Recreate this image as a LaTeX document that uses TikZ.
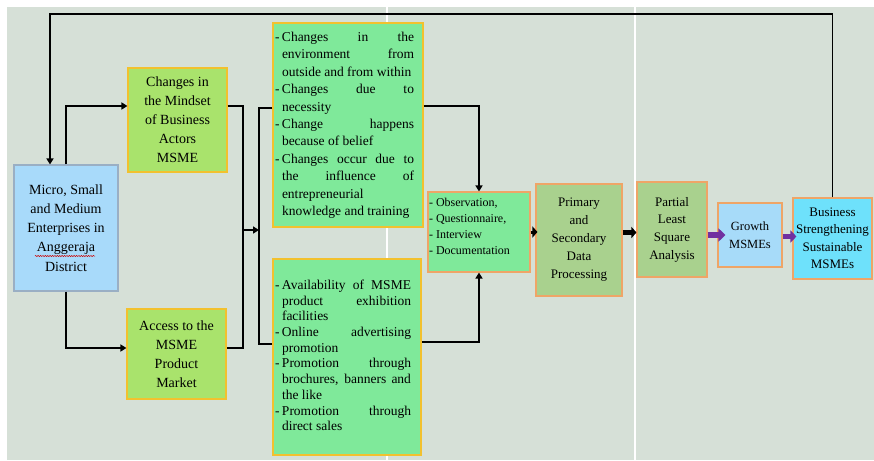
\documentclass[tikz,border=0pt]{standalone}
\usepackage{fontspec}
\setmainfont{Liberation Serif}
\usetikzlibrary{arrows.meta,calc,decorations.pathmorphing}
\definecolor{bgc}{HTML}{D6E0D7}
\definecolor{msmefill}{HTML}{A8DAFA}
\definecolor{msmedraw}{HTML}{9AAFC4}
\definecolor{limefill}{HTML}{A9E36C}
\definecolor{golddraw}{HTML}{F2C12E}
\definecolor{greenfill}{HTML}{7FE99A}
\definecolor{orangedraw}{HTML}{EFA567}
\definecolor{olivefill}{HTML}{A9D18E}
\definecolor{growfill}{HTML}{A7DBF9}
\definecolor{busfill}{HTML}{6EE1FB}
\definecolor{arrpurple}{HTML}{7030A0}
\newcommand\J[2]{\makebox[#1][s]{#2}}
\newcommand\dsh{\makebox[7pt][l]{-}}
\tikzset{
  box/.style={draw, line width=1.1pt, inner sep=0pt, align=center},
  conn/.style={draw=black, line width=1.7pt},
  conna/.style={conn, -{Triangle[length=6pt,width=7pt]}},
  blk/.style={draw=black, -{Triangle[length=5pt,width=11pt]}},
  prp/.style={draw=arrpurple, -{Triangle[length=7pt,width=13pt]}},
}
\begin{document}
\begin{tikzpicture}[x=1pt,y=-1pt]
\useasboundingbox (0,0) rectangle (874,460);
\fill[bgc] (7,7) rectangle (874,460);
\draw[white, line width=1.5pt] (387,7) -- (387,460);
\draw[white, line width=1.5pt] (635,7) -- (635,460);

% boxes
\node[box, draw=msmedraw, fill=msmefill, minimum width=104pt, minimum height=126pt,
      font=\fontsize{14}{19.2}\selectfont] (msme) at (66,228)
  {Micro, Small\\and Medium\\Enterprises in\\Anggeraja\\District};
\node[box, draw=golddraw, fill=limefill, minimum width=99pt, minimum height=104pt,
      font=\fontsize{14}{19}\selectfont] (mind) at (177.5,120)
  {Changes in\\the Mindset\\of Business\\Actors\\MSME};
\node[box, draw=golddraw, fill=limefill, minimum width=99pt, minimum height=90pt,
      font=\fontsize{14}{19}\selectfont] (access) at (176.5,354)
  {Access to the\\MSME\\Product\\Market};
\node[box, draw=golddraw, fill=greenfill, minimum width=150pt, minimum height=204pt,
      font=\fontsize{13.5}{17.4}\selectfont] (chg) at (348,125)
  {\makebox[146pt][l]{\begin{tabular}{@{}l@{}l@{}}
   \dsh&\J{132pt}{Changes in the}\\
   &\J{132pt}{environment from}\\
   &outside and from within\\
   \dsh&\J{132pt}{Changes due to}\\
   &necessity\\
   \dsh&\J{132pt}{Change happens}\\
   &because of belief\\
   \dsh&\J{132pt}{Changes occur due to}\\
   &\J{132pt}{the influence of}\\
   &entrepreneurial\\
   &knowledge and training
   \end{tabular}}};
\node[box, draw=golddraw, fill=greenfill, minimum width=148pt, minimum height=196pt,
      font=\fontsize{13.5}{15.7}\selectfont] (avail) at (347,357)
  {\makebox[144pt][l]{\begin{tabular}{@{}l@{}l@{}}
   \dsh&\J{129pt}{Availability of MSME}\\
   &\J{129pt}{product exhibition}\\
   &facilities\\
   \dsh&\J{129pt}{Online advertising}\\
   &promotion\\
   \dsh&\J{129pt}{Promotion through}\\
   &\J{129pt}{brochures, banners and}\\
   &the like\\
   \dsh&\J{129pt}{Promotion through}\\
   &direct sales
   \end{tabular}}};
\node[box, draw=orangedraw, fill=greenfill, minimum width=102pt, minimum height=80pt,
      font=\fontsize{12}{16}\selectfont] (obs) at (479,232)
  {\makebox[100pt][l]{\raisebox{4.5pt}[\height][\depth]{\begin{tabular}{@{}l@{}l@{}}
   \dsh&Observation,\\
   \dsh&Questionnaire,\\
   \dsh&Interview\\
   \dsh&Documentation
   \end{tabular}}}};
\node[box, draw=orangedraw, fill=olivefill, minimum width=86pt, minimum height=112pt,
      font=\fontsize{13}{18}\selectfont] (prim) at (579,240)
  {Primary\\and\\Secondary\\Data\\Processing};
\node[box, draw=orangedraw, fill=olivefill, minimum width=70pt, minimum height=95pt,
      font=\fontsize{13}{17.7}\selectfont] (pls) at (672,229.5)
  {Partial\\Least\\Square\\Analysis};
\node[box, draw=orangedraw, fill=growfill, minimum width=64pt, minimum height=64pt,
      font=\fontsize{12.5}{18.3}\selectfont] (grow) at (750,235)
  {Growth\\MSMEs};
\node[box, draw=orangedraw, fill=busfill, minimum width=79pt, minimum height=81pt,
      font=\fontsize{13}{17.5}\selectfont] (bus) at (832.5,238.5)
  {Business\\Strengthening\\Sustainable\\MSMEs};

% spell-check squiggle
\draw[red!80!black, line width=0.5pt, decorate, decoration={snake, amplitude=0.6pt, segment length=2.4pt}] (35,256) -- (95,256);

% connectors
\coordinate (fbL) at (50,14);
\draw[conna] (bus.north) |- (fbL) -- (fbL |- msme.north);
\draw[conna] (msme.north) |- ($(mind.west)+(0,-14)$);
\draw[conna] (msme.south) |- ($(access.west)+(0,-6)$);
\coordinate (j1) at (243,230);
\coordinate (j2) at (259,230);
\draw[conn] ($(mind.east)+(0,-14)$) -| (j1) |- ($(access.east)+(0,-6)$);
\draw[conna] (j1) -- (j2);
\draw[conn] ($(chg.west)+(0,-17)$) -| (j2) |- ($(avail.west)+(0,-13)$);
\draw[conna] ($(chg.east)+(0,-19)$) -| (obs.north);
\draw[conna] ($(avail.east)+(0,-15)$) -| (obs.south);

% block arrows
\draw[blk, line width=3pt] (obs.east) -- ([xshift=2pt]obs.east -| prim.west);
\coordinate (a2) at ($(prim.east)+(0,-7.5)$);
\draw[blk, line width=5pt, -{Triangle[length=5pt,width=11pt]}] (a2) -- (a2 -| pls.west);
\draw[prp, line width=5.5pt] (pls.east |- grow.west) -- ([xshift=8pt]grow.west);
\draw[prp, line width=5pt, -{Triangle[length=6pt,width=12pt]}] ([yshift=-1.5pt]grow.east) -- ([xshift=4pt,yshift=-1.5pt]grow.east -| bus.west);
\end{tikzpicture}
\end{document}
